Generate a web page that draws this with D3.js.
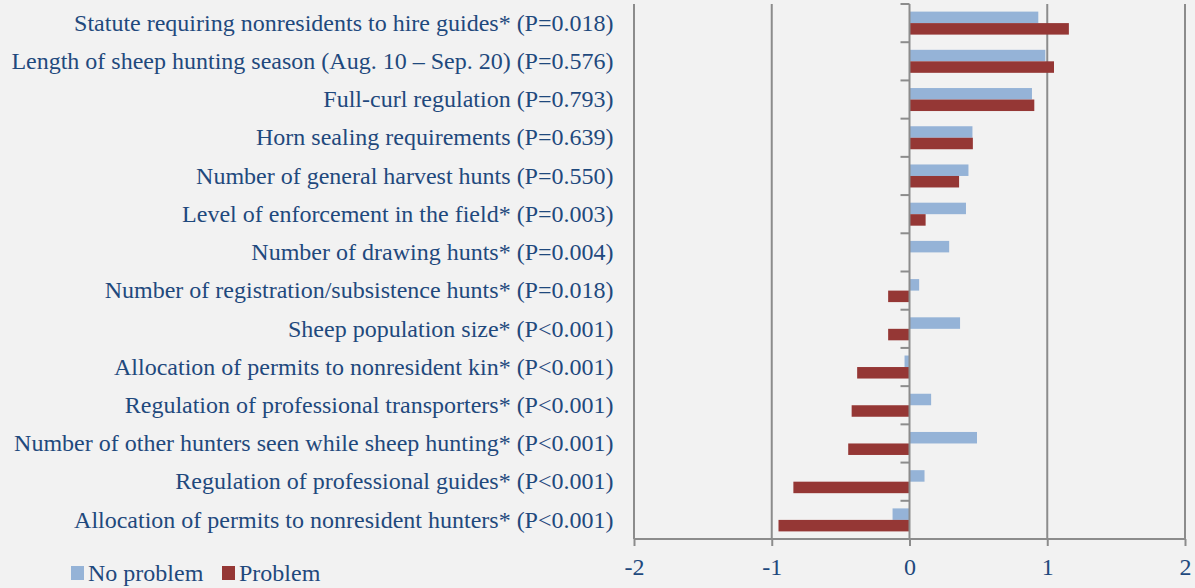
<!DOCTYPE html>
<html><head><meta charset="utf-8">
<script src="https://cdn.jsdelivr.net/npm/d3@7"></script>
<style>body{margin:0;background:#F2F2F2;}svg{display:block;} text{font-family:"Liberation Serif","Times New Roman",serif;}</style>
</head><body>
<script>
const categories = [
  "Statute requiring nonresidents to hire guides* (P=0.018)",
  "Length of sheep hunting season (Aug. 10 \u2013 Sep. 20) (P=0.576)",
  "Full-curl regulation (P=0.793)",
  "Horn sealing requirements (P=0.639)",
  "Number of general harvest hunts (P=0.550)",
  "Level of enforcement in the field* (P=0.003)",
  "Number of drawing hunts* (P=0.004)",
  "Number of registration/subsistence hunts* (P=0.018)",
  "Sheep population size* (P<0.001)",
  "Allocation of permits to nonresident kin* (P<0.001)",
  "Regulation of professional transporters* (P<0.001)",
  "Number of other hunters seen while sheep hunting* (P<0.001)",
  "Regulation of professional guides* (P<0.001)",
  "Allocation of permits to nonresident hunters* (P<0.001)"
];
const noProblem = [0.935, 0.986, 0.889, 0.457, 0.428, 0.41, 0.288, 0.07, 0.367, -0.036, 0.157, 0.49, 0.109, -0.123];
const problem   = [1.157, 1.049, 0.906, 0.46, 0.36, 0.117, 0.0, -0.155, -0.155, -0.38, -0.42, -0.445, -0.843, -0.951];
const xTicks = [-2, -1, 0, 1, 2];
const seriesNames = ["No problem", "Problem"];
const colors = ["#95B3D7", "#953735"];

const W = 1195, H = 588;
const svg = d3.select("body").append("svg").attr("width", W).attr("height", H);
svg.append("rect").attr("width", W).attr("height", H).attr("fill", "#F2F2F2");

const x = d3.scaleLinear().domain([-2, 2]).range([634, 1185]);
const y = d3.scaleBand().domain(categories).range([4, 539]);
const sub = d3.scaleBand().domain(seriesNames).range([0, 23]);
const textColor = "#1F497D";
const lineColor = "#8C8C8C";
const FONT = "'Liberation Serif', 'Times New Roman', serif";
const FS = "24px";

// gridlines
svg.append("g").selectAll("line").data(xTicks.filter(d => d !== 0)).join("line")
  .attr("x1", d => x(d)).attr("x2", d => x(d)).attr("y1", 4).attr("y2", 539)
  .attr("stroke", lineColor).attr("stroke-width", 2);

// bars
const series = [noProblem, problem];
series.forEach((vals, si) => {
  svg.append("g").selectAll("rect").data(vals).join("rect")
    .attr("x", d => x(Math.min(0, d)))
    .attr("width", d => Math.abs(x(d) - x(0)))
    .attr("y", (d, i) => y(categories[i]) + y.bandwidth() / 2 - 11.5 + sub(seriesNames[si]))
    .attr("height", sub.bandwidth())
    .attr("fill", colors[si]);
});

// x axis
const xAxis = d3.axisBottom(x).tickValues(xTicks).tickSize(7).tickFormat(d => String(d));
const gx = svg.append("g").attr("transform", "translate(0,539)").call(xAxis);
gx.attr("font-family", null).attr("font-size", null);
gx.select(".domain").attr("stroke", lineColor).attr("stroke-width", 2).attr("d", `M${x(-2)},0H${x(2)}`);
gx.selectAll(".tick line").attr("stroke", lineColor).attr("stroke-width", 2);
gx.selectAll(".tick text").attr("fill", textColor).style("font-family", FONT)
  .style("font-size", FS).attr("y", 19).attr("dy", "0.71em").attr("text-anchor", "middle");

// y axis at zero
const yAxis = d3.axisLeft(y).tickSize(0).tickPadding(296);
const gy = svg.append("g").attr("transform", `translate(${x(0)},0)`).call(yAxis);
gy.attr("font-family", null).attr("font-size", null);
gy.select(".domain").attr("stroke", lineColor).attr("stroke-width", 2).attr("d", "M0,4V539");
gy.selectAll(".tick text").attr("fill", textColor).style("font-family", FONT)
  .style("font-size", FS);
// category boundary ticks
const bounds = categories.map(c => y(c)).concat([539]);
gy.append("g").selectAll("line").data(bounds).join("line")
  .attr("x1", -9).attr("x2", 0).attr("y1", d => d).attr("y2", d => d)
  .attr("stroke", lineColor).attr("stroke-width", 2);

// legend
const lg = svg.append("g").style("font-family", FONT).style("font-size", FS).attr("fill", textColor);
const legendX = [71, 222];
seriesNames.forEach((s, i) => {
  lg.append("rect").attr("x", legendX[i]).attr("y", 566).attr("width", 13).attr("height", 14).attr("fill", colors[i]);
  lg.append("text").attr("x", legendX[i] + 17).attr("y", 581).text(s);
});
</script>
</body></html>
